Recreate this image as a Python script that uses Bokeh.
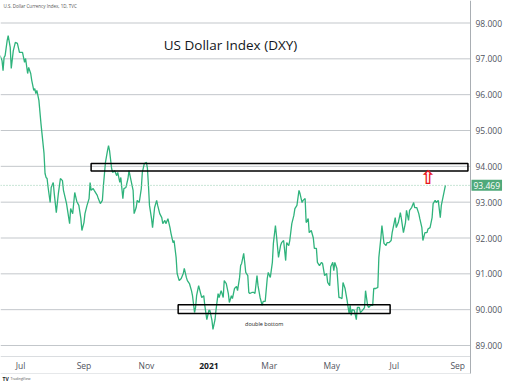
import pandas as pd
from bokeh.plotting import figure
from bokeh.models import Range1d, Span, BoxAnnotation, Label, ColumnDataSource
from bokeh.core.properties import value
from bokeh.embed import file_html
from bokeh.resources import INLINE

# ---------------- data ----------------
dates = [
    "2020-06-11", "2020-06-13", "2020-06-14", "2020-06-15", "2020-06-16", "2020-06-18", "2020-06-19",
    "2020-06-21", "2020-06-22", "2020-06-24", "2020-06-26", "2020-06-28", "2020-06-30",
    "2020-07-03", "2020-07-04", "2020-07-05", "2020-07-06", "2020-07-08", "2020-07-09", "2020-07-11",
    "2020-07-12", "2020-07-14", "2020-07-15", "2020-07-16", "2020-07-17", "2020-07-19", "2020-07-21",
    "2020-07-22", "2020-07-24", "2020-07-25", "2020-07-26", "2020-07-27", "2020-07-28", "2020-07-30",
    "2020-07-31",
    "2020-08-02", "2020-08-03", "2020-08-05", "2020-08-07", "2020-08-09", "2020-08-11", "2020-08-12",
    "2020-08-15", "2020-08-16", "2020-08-18", "2020-08-19", "2020-08-21", "2020-08-23", "2020-08-25",
    "2020-08-27", "2020-08-29", "2020-08-30",
    "2020-09-01", "2020-09-02", "2020-09-04", "2020-09-06", "2020-09-07", "2020-09-08", "2020-09-10",
    "2020-09-11", "2020-09-14", "2020-09-15", "2020-09-17", "2020-09-19", "2020-09-20", "2020-09-22",
    "2020-09-24", "2020-09-25", "2020-09-26", "2020-09-28", "2020-09-29",
    "2020-10-01", "2020-10-03", "2020-10-04", "2020-10-06", "2020-10-07", "2020-10-09", "2020-10-10",
    "2020-10-12", "2020-10-14", "2020-10-15", "2020-10-17", "2020-10-19", "2020-10-20", "2020-10-22",
    "2020-10-23", "2020-10-25", "2020-10-27", "2020-10-28", "2020-10-30",
    "2020-11-01", "2020-11-02", "2020-11-03", "2020-11-04", "2020-11-06", "2020-11-07", "2020-11-09",
    "2020-11-11", "2020-11-12", "2020-11-14", "2020-11-16", "2020-11-17", "2020-11-19", "2020-11-20",
    "2020-11-22", "2020-11-24", "2020-11-25", "2020-11-27", "2020-11-28", "2020-11-30",
    "2020-12-01", "2020-12-03", "2020-12-05", "2020-12-07", "2020-12-08", "2020-12-10", "2020-12-11",
    "2020-12-13", "2020-12-15", "2020-12-16", "2020-12-18", "2020-12-19", "2020-12-20", "2020-12-22",
    "2020-12-24", "2020-12-25", "2020-12-27", "2020-12-28", "2020-12-30",
    "2021-01-01", "2021-01-02", "2021-01-04", "2021-01-05", "2021-01-07", "2021-01-08", "2021-01-10",
    "2021-01-11", "2021-01-13", "2021-01-15", "2021-01-16", "2021-01-18", "2021-01-20", "2021-01-21",
    "2021-01-23", "2021-01-24", "2021-01-26", "2021-01-28", "2021-01-29", "2021-01-31",
    "2021-02-01", "2021-02-02", "2021-02-04", "2021-02-05", "2021-02-06", "2021-02-08", "2021-02-09",
    "2021-02-10", "2021-02-12", "2021-02-14", "2021-02-15", "2021-02-17", "2021-02-18", "2021-02-20",
    "2021-02-22", "2021-02-23", "2021-02-25", "2021-02-27", "2021-02-28",
    "2021-03-02", "2021-03-04", "2021-03-05", "2021-03-07", "2021-03-08", "2021-03-10", "2021-03-12",
    "2021-03-13", "2021-03-15", "2021-03-17", "2021-03-18", "2021-03-20", "2021-03-21", "2021-03-23",
    "2021-03-25", "2021-03-26", "2021-03-28", "2021-03-30", "2021-03-31",
    "2021-04-02", "2021-04-03", "2021-04-05", "2021-04-06", "2021-04-08", "2021-04-09", "2021-04-11",
    "2021-04-13", "2021-04-14", "2021-04-16", "2021-04-17", "2021-04-19", "2021-04-21", "2021-04-22",
    "2021-04-24", "2021-04-26", "2021-04-27", "2021-04-29", "2021-04-30",
    "2021-05-02", "2021-05-03", "2021-05-04", "2021-05-06", "2021-05-08", "2021-05-09", "2021-05-11",
    "2021-05-12", "2021-05-14", "2021-05-16", "2021-05-17", "2021-05-18", "2021-05-19", "2021-05-20",
    "2021-05-21", "2021-05-23", "2021-05-25", "2021-05-26", "2021-05-28", "2021-05-29", "2021-05-31",
    "2021-06-02", "2021-06-03", "2021-06-05", "2021-06-06", "2021-06-08", "2021-06-10", "2021-06-11",
    "2021-06-13", "2021-06-15", "2021-06-16", "2021-06-18", "2021-06-19", "2021-06-21", "2021-06-23",
    "2021-06-24", "2021-06-26", "2021-06-28", "2021-06-29",
    "2021-07-01", "2021-07-02", "2021-07-03", "2021-07-05", "2021-07-07", "2021-07-08", "2021-07-10",
    "2021-07-12", "2021-07-13", "2021-07-15", "2021-07-16", "2021-07-18", "2021-07-20", "2021-07-21",
    "2021-07-23", "2021-07-25", "2021-07-26", "2021-07-28", "2021-07-29", "2021-07-31",
    "2021-08-02", "2021-08-03", "2021-08-05", "2021-08-07", "2021-08-08", "2021-08-10", "2021-08-11",
    "2021-08-13", "2021-08-15", "2021-08-16", "2021-08-18", "2021-08-20",
]

close = [
    97.09, 96.95, 96.67, 97.04, 97.09, 97.51, 97.65, 97.32, 96.73, 97.23, 97.46, 97.43, 97.18,
    97.18, 97.04, 96.90, 97.01, 96.59, 96.76, 96.59, 96.40, 96.12, 96.17, 96.03, 96.12, 95.84, 95.20,
    94.92, 94.36, 93.80, 93.69, 93.66, 93.41, 92.99, 93.41,
    93.55, 93.24, 92.71, 93.24, 93.66, 93.60, 93.33, 92.96, 92.77, 92.40, 92.82, 92.68, 93.27, 93.02,
    92.91, 92.54, 92.21,
    92.43, 92.68, 92.91, 93.10, 93.55, 93.33, 93.38, 93.33, 93.19, 93.10, 92.96, 93.05, 93.46, 94.11,
    94.44, 94.58, 94.44, 93.94, 93.83,
    93.88, 93.74, 93.83, 93.55, 93.69, 93.10, 93.38, 93.41, 93.66, 93.88, 93.60, 93.33, 92.68, 92.85,
    93.05, 92.99, 93.38, 93.83, 94.08,
    94.11, 93.94, 93.46, 92.91, 92.54, 92.29, 92.85, 93.05, 92.91, 92.68, 92.57, 92.40, 92.49, 92.40,
    92.54, 92.29, 92.13, 91.87, 91.93, 91.46,
    91.01, 90.81, 90.87, 91.01, 91.15, 90.90, 90.81, 90.73, 90.53, 90.39, 89.92, 90.06, 90.39, 90.67,
    90.45, 90.34, 90.39, 90.12, 89.72,
    89.98, 89.98, 89.70, 89.45, 89.72, 90.00, 90.45, 90.34, 90.53, 90.34, 90.81, 90.73, 90.45, 90.20,
    90.39, 90.31, 90.59, 90.65, 90.53, 90.90,
    91.23, 91.29, 91.57, 91.32, 91.04, 90.95, 90.48, 90.45, 90.48, 90.48, 90.45, 90.95, 90.67, 90.34,
    90.12, 90.23, 90.23, 90.87, 91.04,
    90.90, 91.32, 91.85, 92.35, 92.07, 91.46, 91.79, 91.87, 91.93, 91.37, 91.87, 91.79, 91.93, 92.40,
    92.63, 92.82, 92.91, 93.33, 93.24,
    92.99, 93.05, 93.10, 92.43, 92.54, 92.15, 92.21, 92.00, 91.71, 91.71, 91.32, 91.23, 91.32, 91.29,
    90.95, 91.01, 90.76, 90.67, 91.20,
    91.32, 91.09, 91.32, 91.15, 90.34, 90.34, 90.31, 90.76, 90.59, 90.26, 90.06, 89.89, 90.12, 89.84,
    90.00, 89.98, 89.72, 90.06, 90.06, 89.92, 89.98,
    90.06, 90.53, 90.12, 90.06, 90.12, 90.12, 90.59, 90.59, 90.62, 91.46, 92.01, 92.35, 91.85, 91.79,
    91.87, 91.87, 91.93, 92.15,
    92.43, 92.57, 92.29, 92.43, 92.71, 92.54, 92.15, 92.43, 92.77, 92.49, 92.77, 92.85, 92.99, 92.85,
    92.85, 92.68, 92.54, 92.29, 91.93, 92.15,
    92.15, 92.25, 92.29, 92.57, 92.96, 93.05, 92.99, 93.05, 92.57, 92.91, 93.19, 93.469,
]

y_ticks = [89, 90, 91, 92, 93, 94, 95, 96, 97, 98]
y_tick_labels = ["89.000", "90.000", "91.000", "92.000", "93.000",
                 "94.000", "95.000", "96.000", "97.000", "98.000"]
x_tick_dates = ["2020-07-01", "2020-09-01", "2020-11-01", "2021-01-01",
                "2021-03-01", "2021-05-01", "2021-07-01", "2021-09-01"]
x_tick_labels = ["Jul", "Sep", "Nov", "2021", "Mar", "May", "Jul", "Sep"]

last_price = 93.469
resistance_low, resistance_high = 93.87, 94.08
resistance_start, resistance_end = "2020-09-08", "2021-09-11"
support_low, support_high = 89.89, 90.14
support_start, support_end = "2020-12-02", "2021-06-27"
arrow_date, arrow_level = "2021-08-03", 93.69
note_date, note_level = "2021-02-24", 89.61

title_text = "US Dollar Index (DXY)"
source_text = "U.S. Dollar Currency Index, 1D, TVC"
note_text = "double bottom"

LINE = "#2fb37c"
LABEL_BG = "#4fa97a"
GRID = "#c3c7cb"
TXT = "#50535e"
FONT = "Open Sans"

# ---------------- geometry: plot pane 470 x 356 px, price scale to the right ----------------
W, H = 512, 382
PANE_W, PANE_H = 470, 356
X0, X1 = "2020-06-11 12:00", "2021-09-13 12:00"   # dates at the pane's left / right edges
Y0, Y1 = 88.693, 98.628                            # values at the pane's bottom / top edges


def ms(d):
    return pd.Timestamp(d).value / 1e6


def px_x(px):      # data x at a pixel column
    return ms(X0) + px * (ms(X1) - ms(X0)) / PANE_W


def px_y(py):      # data y at a pixel row (from top)
    return Y1 - py * (Y1 - Y0) / PANE_H


src = ColumnDataSource(data=dict(date=pd.to_datetime(dates), close=close))

p = figure(width=W, height=H, x_axis_type="datetime",
           output_backend="svg", toolbar_location=None,
           x_range=Range1d(px_x(0), px_x(W)), y_range=Range1d(px_y(H), px_y(0)),
           min_border=0)
p.xaxis.visible = False
p.yaxis.visible = False
p.grid.visible = False
p.outline_line_color = None
p.background_fill_color = "white"
p.border_fill_color = "white"

# horizontal price grid, stopping at the price scale
p.segment(x0=px_x(0), x1=px_x(PANE_W), y0=y_ticks, y1=y_ticks,
          line_color=GRID, line_width=1)
# pane borders: time-axis line, bottom border, price-scale line
p.segment(x0=[px_x(0), px_x(0), px_x(PANE_W)],
          x1=[px_x(PANE_W), px_x(PANE_W), px_x(PANE_W)],
          y0=[px_y(PANE_H), px_y(373), px_y(0)],
          y1=[px_y(PANE_H), px_y(373), px_y(373)],
          line_color=["#dadde0", "#e6e8ea", "#a9aeb3"], line_width=1)

# price scale labels
p.text(x=px_x(PANE_W + 5), y=y_ticks, text=y_tick_labels,
       text_font=value(FONT), text_font_size=value("8.5px"), text_color=TXT,
       text_align="left", text_baseline="middle")

# time axis labels (year label bold)
norm = [(d, t) for d, t in zip(x_tick_dates, x_tick_labels) if not t.isdigit()]
year = [(d, t) for d, t in zip(x_tick_dates, x_tick_labels) if t.isdigit()]
p.text(x=pd.to_datetime([d for d, _ in norm]), y=px_y(365), text=[t for _, t in norm],
       text_font=value(FONT), text_font_size=value("8.5px"), text_color=TXT,
       text_align="center", text_baseline="middle")
p.text(x=pd.to_datetime([d for d, _ in year]), y=px_y(365), text=[t for _, t in year],
       text_font=value(FONT), text_font_size=value("8.5px"), text_color="#131722",
       text_font_style="bold", text_align="center", text_baseline="middle")

# price series
p.line(x="date", y="close", source=src, line_color=LINE, line_width=1.3)

# last price dotted line (within the pane) + price tag on the scale
p.segment(x0=px_x(0), x1=px_x(PANE_W), y0=last_price, y1=last_price,
          line_color="#8fc9ab", line_dash="1 2", line_width=1)
p.add_layout(Label(x=px_x(PANE_W + 1), y=last_price, text=f"{last_price:.3f}",
                   text_align="left", text_baseline="middle", text_font=FONT,
                   text_font_size="8.5px", text_color="white",
                   background_fill_color=LABEL_BG, padding=2))

# resistance & support boxes
p.add_layout(BoxAnnotation(left=ms(resistance_start), right=ms(resistance_end),
                           bottom=resistance_low, top=resistance_high,
                           fill_alpha=0, line_color="black", line_width=1.5, line_alpha=1))
p.add_layout(BoxAnnotation(left=ms(support_start), right=ms(support_end),
                           bottom=support_low, top=support_high,
                           fill_alpha=0, line_color="black", line_width=1.5, line_alpha=1))

# texts
p.add_layout(Label(x=px_x(230), y=px_y(44), text=title_text,
                   text_align="center", text_baseline="middle", text_font=FONT,
                   text_font_size="13.5px", text_color="#131722"))
p.add_layout(Label(x=px_x(3), y=px_y(5), text=source_text,
                   text_align="left", text_baseline="middle", text_font=FONT,
                   text_font_size="4.5px", text_color="#555"))
p.add_layout(Label(x=ms(note_date), y=note_level, text=note_text,
                   text_align="center", text_baseline="middle", text_font=FONT,
                   text_font_size="5.5px", text_color="#222"))
p.add_layout(Label(x=ms(arrow_date), y=arrow_level, text="\u21e7",
                   text_align="center", text_baseline="middle", text_font="DejaVu Sans",
                   text_font_size="19px", text_font_style="bold", text_color="#e8141c"))
p.add_layout(Label(x=px_x(2), y=px_y(378), text="TV",
                   text_align="left", text_baseline="middle", text_font=FONT,
                   text_font_size="5px", text_font_style="bold", text_color="#131722"))
p.add_layout(Label(x=px_x(10), y=px_y(378), text="TradingView",
                   text_align="left", text_baseline="middle", text_font=FONT,
                   text_font_size="3.5px", text_color="#555"))

open("out.html", "w").write(file_html(p, INLINE))
